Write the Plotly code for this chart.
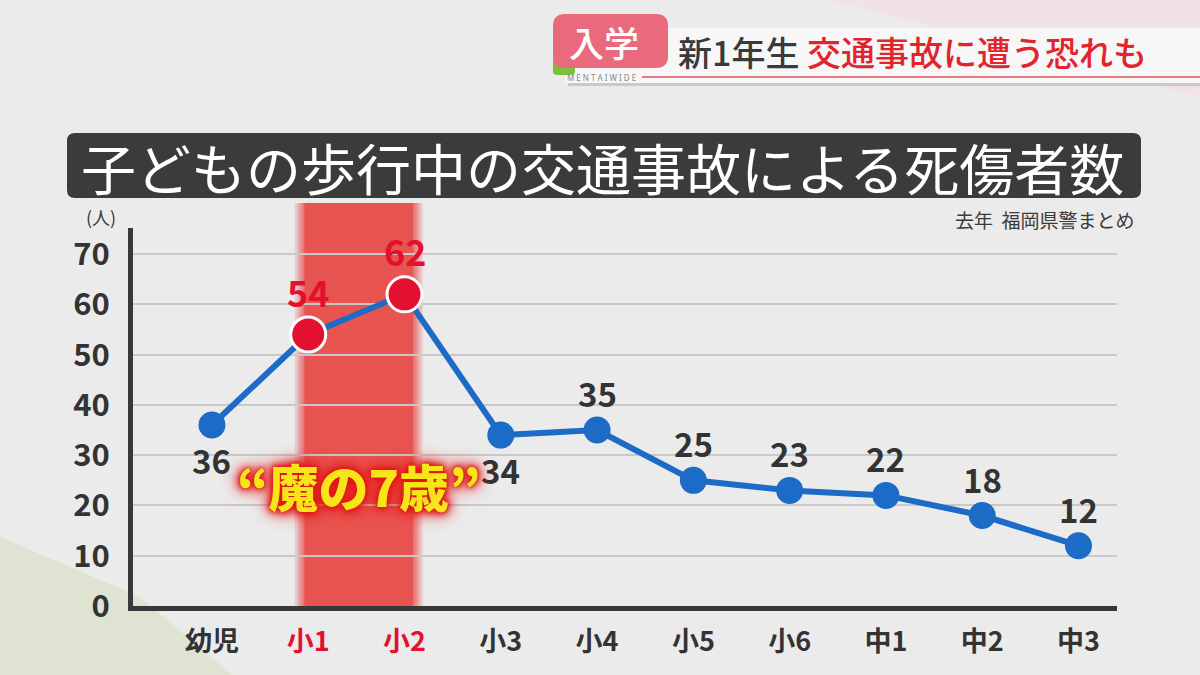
import plotly.graph_objects as go

# ---------------- data ----------------
categories = ["幼児", "小1", "小2", "小3", "小4", "小5", "小6", "中1", "中2", "中3"]
values = [36, 54, 62, 34, 35, 25, 23, 22, 18, 12]
highlight = [False, True, True, False, False, False, False, False, False, False]
label_below = [True, False, False, True, False, False, False, False, False, False]
y_ticks = [0, 10, 20, 30, 40, 50, 60, 70]

title_text = "子どもの歩行中の交通事故による死傷者数"
source_text = "去年  福岡県警まとめ"
unit_text = "(人)"
callout_text = "“魔の7歳”"

W, H = 1200, 675
BG = "#ebebeb"
DARK = "#383838"
BLUE = "#1c6bc6"
RED = "#e3102f"


def px(x):
    return x / W


def py(y):
    return 1 - y / H


def rounded_rect(x0, y0, x1, y1, r):
    rx, ry = r / W, r / H
    X0, X1 = px(x0), px(x1)
    Y0, Y1 = py(y0), py(y1)  # Y0 top (larger), Y1 bottom
    return (f"M{X0+rx},{Y0} L{X1-rx},{Y0} Q{X1},{Y0} {X1},{Y0-ry} "
            f"L{X1},{Y1+ry} Q{X1},{Y1} {X1-rx},{Y1} L{X0+rx},{Y1} "
            f"Q{X0},{Y1} {X0},{Y1+ry} L{X0},{Y0-ry} Q{X0},{Y0} {X0+rx},{Y0} Z")


def poly(points):
    s = "M" + " L".join(f"{px(x)},{py(y)}" for x, y in points) + " Z"
    return s


xi = list(range(len(categories)))

fig = go.Figure()

# line
fig.add_trace(go.Scatter(
    x=xi, y=values, mode="lines",
    line=dict(color=BLUE, width=6),
    hoverinfo="skip", showlegend=False, cliponaxis=False,
))
# markers
fig.add_trace(go.Scatter(
    x=xi, y=values, mode="markers",
    marker=dict(
        color=[RED if h else BLUE for h in highlight],
        size=[35 if h else 27 for h in highlight],
        opacity=1,
        line=dict(color=["white" if h else BLUE for h in highlight],
                  width=[3 if h else 0 for h in highlight]),
    ),
    hoverinfo="skip", showlegend=False, cliponaxis=False,
))

shapes = []
annotations = []

# background decorations
shapes.append(dict(type="path", xref="paper", yref="paper", layer="below",
                   path=poly([(830, 0), (1200, 0), (1200, 97)]),
                   fillcolor="#f1e3e5", line=dict(width=0)))
shapes.append(dict(type="path", xref="paper", yref="paper", layer="below",
                   path=poly([(0, 537), (140, 597), (232, 675), (0, 675)]),
                   fillcolor="#dfe3d2", line=dict(width=0)))

# header bar
shapes.append(dict(type="rect", xref="paper", yref="paper", layer="below",
                   x0=px(568), x1=px(1200), y0=py(86), y1=py(31),
                   fillcolor="#c9c9c9", line=dict(width=0)))
shapes.append(dict(type="rect", xref="paper", yref="paper", layer="below",
                   x0=px(565), x1=px(1200), y0=py(83), y1=py(28),
                   fillcolor="#f7f7f7", line=dict(width=0)))
shapes.append(dict(type="line", xref="paper", yref="paper", layer="below",
                   x0=px(642), x1=px(1200), y0=py(77), y1=py(77),
                   line=dict(color="#e0505a", width=1.5)))
# green strip + pink badge
shapes.append(dict(type="path", xref="paper", yref="paper", layer="below",
                   path=rounded_rect(553, 40, 575, 75, 4),
                   fillcolor="#7cbf3a", line=dict(width=0)))
shapes.append(dict(type="path", xref="paper", yref="paper", layer="below",
                   path=rounded_rect(553, 14, 668, 68, 12),
                   fillcolor="#e96a7c", line=dict(width=0)))

# title box
shapes.append(dict(type="path", xref="paper", yref="paper", layer="below",
                   path=rounded_rect(67, 133, 1141, 198, 8),
                   fillcolor="#3b3b3b", line=dict(width=0)))

# red highlight band (soft edges via stacked rects)
band_x0, band_x1 = 0.96, 2.09
ytop = py(203)
ybot = py(606)
steps = [0.1, 0.075, 0.055, 0.04, 0.025, 0.012]
for s in steps:
    shapes.append(dict(type="rect", xref="x", yref="paper", layer="between",
                       x0=band_x0 - s, x1=band_x1 + s, y0=ybot, y1=ytop,
                       fillcolor="#e8524f", opacity=0.2, line=dict(width=0)))
shapes.append(dict(type="rect", xref="x", yref="paper", layer="between",
                   x0=band_x0, x1=band_x1, y0=ybot, y1=ytop,
                   fillcolor="#e8544f", opacity=1, line=dict(width=0)))

# header texts
annotations.append(dict(xref="paper", yref="paper", x=px(604), y=py(42),
                        text="入学", showarrow=False, xanchor="center", yanchor="middle",
                        font=dict(family="Noto Sans CJK JP", size=35, color="white", weight=500)))
annotations.append(dict(xref="paper", yref="paper", x=px(601), y=py(77),
                        text="M E N T A I W I D E", showarrow=False, xanchor="center", yanchor="middle",
                        font=dict(family="Noto Sans", size=8, color="#888888")))
annotations.append(dict(xref="paper", yref="paper", x=px(676), y=py(52),
                        text="新1年生 <span style='color:#e2242c'>交通事故に遭う恐れも</span>",
                        showarrow=False, xanchor="left", yanchor="middle",
                        font=dict(family="Noto Sans CJK JP", size=34, color="#3a3a3a", weight=500)))

# title
annotations.append(dict(xref="paper", yref="paper", x=px(603), y=py(166),
                        text=title_text, showarrow=False, xanchor="center", yanchor="middle",
                        height=60, valign="middle",
                        font=dict(family="Noto Sans CJK JP", size=55, color="white", weight=400)))
# source
annotations.append(dict(xref="paper", yref="paper", x=px(1137), y=py(219),
                        text=source_text, showarrow=False, xanchor="right", yanchor="middle",
                        font=dict(family="Noto Sans CJK JP", size=19, color="#3a3a3a")))
# unit
annotations.append(dict(xref="paper", yref="paper", x=px(101), y=py(217),
                        text=unit_text, showarrow=False, xanchor="center", yanchor="middle",
                        font=dict(family="Noto Sans CJK JP", size=18, color="#3a3a3a")))

# data labels
for i, (v, h, below) in enumerate(zip(values, highlight, label_below)):
    if h:
        ys, col, sz = 44, RED, 36
    elif below:
        ys, col, sz = -35, "#333333", 33
    else:
        ys, col, sz = 37, "#333333", 33
    annotations.append(dict(x=i, y=v, xref="x", yref="y", text=str(v), showarrow=False,
                            yshift=ys, xanchor="center", yanchor="middle",
                            font=dict(family="Noto Sans CJK JP", size=sz, color=col, weight=700 if h else 600)))

# callout
annotations.append(dict(x=(band_x0 + band_x1) / 2, y=24, xref="x", yref="y",
                        text=callout_text, showarrow=False, xanchor="center", yanchor="middle",
                        font=dict(family="Noto Sans CJK JP", size=50, color="#f7e51a", weight=900,
                                  shadow="0 0 3px #e01515, 0 0 6px #e01515, 0 0 10px #e01515, 0 0 14px #e01515, 0 0 20px #e83030")))

ticktext = [f"<span style='color:{RED}'>{c}</span>" if h else c
            for c, h in zip(categories, highlight)]

fig.update_layout(
    width=W, height=H,
    margin=dict(l=0, r=0, t=0, b=0, pad=0),
    paper_bgcolor=BG, plot_bgcolor=BG,
    showlegend=False,
    shapes=shapes,
    annotations=annotations,
    xaxis=dict(
        domain=[px(133), px(1117)],
        range=[-0.82, 9.4],
        automargin=False,
        tickmode="array", tickvals=xi, ticktext=ticktext,
        showgrid=False, zeroline=False,
        showline=True, linecolor=DARK, linewidth=5,
        ticks="", ticklabelstandoff=8,
        tickfont=dict(family="Noto Sans CJK JP", size=27, color="#333333", weight=700),
        fixedrange=True,
    ),
    yaxis=dict(
        domain=[py(606), py(228)],
        range=[0, 75.2],
        automargin=False,
        tickmode="array", tickvals=y_ticks,
        showgrid=True, gridcolor="#c9c9c9", gridwidth=1.5,
        zeroline=False,
        showline=True, linecolor=DARK, linewidth=5,
        ticks="", ticklabelstandoff=12,
        tickfont=dict(family="Noto Sans CJK JP", size=31, color="#333333", weight=600),
        fixedrange=True,
    ),
)

fig.write_html("out.html")
